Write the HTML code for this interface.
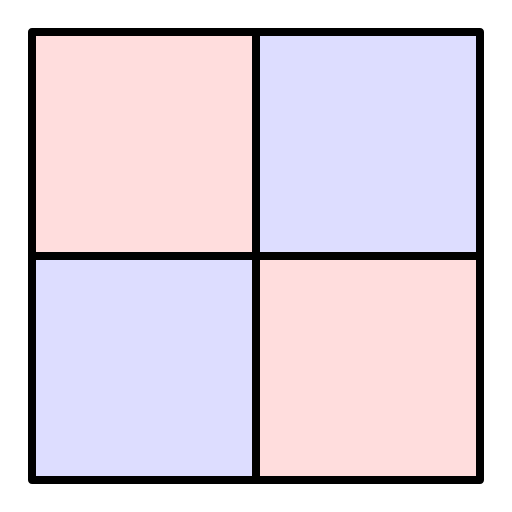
<!DOCTYPE html>
<html><head><style>html,body{margin:0;padding:0;background:#fff;}svg{display:block}</style></head>
<body>
<svg width="512" height="512" viewBox="0 0 512 512">
<g id="cells"></g>
</svg>
<script>
const rows = [0, 1];
const cols = [0, 1];
const values = [[1, 0], [0, 1]];
const colors = ['#ddddff', '#ffdddd'];
const x0 = 32, y0 = 32, cw = 224, ch = 224;
const xs = c => x0 + c * cw;
const ys = r => y0 + r * ch;
const g = document.getElementById('cells');
rows.forEach(r => cols.forEach(c => {
  const el = document.createElementNS('http://www.w3.org/2000/svg', 'rect');
  el.setAttribute('x', xs(c)); el.setAttribute('y', ys(r));
  el.setAttribute('width', cw); el.setAttribute('height', ch);
  el.setAttribute('fill', colors[values[r][c]]);
  el.setAttribute('stroke', '#000'); el.setAttribute('stroke-width', 8);
  el.setAttribute('stroke-linejoin', 'round');
  
  
  g.appendChild(el);
}));
</script>
</body></html>
